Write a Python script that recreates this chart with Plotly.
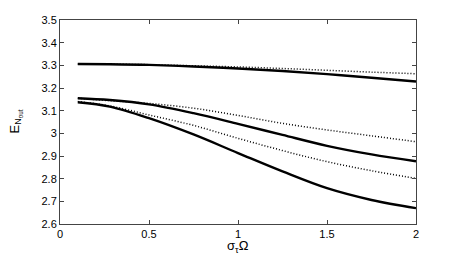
import plotly.graph_objects as go

x = [0.1, 0.28, 0.5, 0.75, 1.0, 1.25, 1.5, 1.75, 2.0]

top_solid = [3.306, 3.305, 3.302, 3.295, 3.286, 3.275, 3.261, 3.245, 3.229]
top_dot = [3.306, 3.305, 3.303, 3.298, 3.293, 3.286, 3.278, 3.270, 3.263]
mid_solid = [3.155, 3.147, 3.128, 3.089, 3.042, 2.993, 2.945, 2.907, 2.877]
mid_dot = [3.155, 3.144, 3.132, 3.111, 3.079, 3.044, 3.015, 2.989, 2.963]
low_solid = [3.137, 3.118, 3.067, 2.995, 2.913, 2.832, 2.758, 2.706, 2.670]
low_dot = [3.140, 3.121, 3.081, 3.035, 2.978, 2.924, 2.875, 2.835, 2.801]

x_ticks = [0, 0.5, 1, 1.5, 2]
x_ticklabels = ["0", "0.5", "1", "1.5", "2"]
y_ticks = [2.6, 2.7, 2.8, 2.9, 3.0, 3.1, 3.2, 3.3, 3.4, 3.5]
y_ticklabels = ["2.6", "2.7", "2.8", "2.9", "3", "3.1", "3.2", "3.3", "3.4", "3.5"]

series = [
    (top_dot, "1px,2px", 1.5),
    (mid_dot, "1px,2px", 1.5),
    (low_dot, "1px,2px", 1.5),
    (top_solid, "solid", 2.4),
    (mid_solid, "solid", 2.4),
    (low_solid, "solid", 2.4),
]

fig = go.Figure()
for ys, dash, w in series:
    fig.add_trace(go.Scatter(x=x, y=ys, mode="lines",
                             line=dict(color="black", width=w, dash=dash, shape="spline", smoothing=1.0),
                             showlegend=False, hoverinfo="skip"))

axis_common = dict(showgrid=False, zeroline=False, showline=True, linecolor="#444", linewidth=1,
                   mirror="ticks", ticks="inside", ticklen=4, tickcolor="#444", automargin=False,
                   tickfont=dict(family="Liberation Sans, Arial", size=11, color="black"))

font_t = dict(family="Liberation Sans, Arial", size=13, color="black")

fig.update_layout(
    width=460, height=259,
    margin=dict(l=60, r=44, t=20, b=35),
    paper_bgcolor="white", plot_bgcolor="white",
    xaxis=dict(range=[0, 2], tickvals=x_ticks, ticktext=x_ticklabels, **axis_common),
    yaxis=dict(range=[2.6, 3.5], tickvals=y_ticks, ticktext=y_ticklabels, **axis_common),
    annotations=[
        dict(text="σ<sub>τ</sub>Ω", xref="paper", yref="paper", x=0.5, y=-0.108,
             xanchor="center", yanchor="middle", showarrow=False, font=font_t),
        dict(text="E<sub>N<sub>out</sub></sub>", xref="paper", yref="paper", x=-0.125, y=0.5,
             xanchor="center", yanchor="middle", textangle=-90, showarrow=False, font=font_t),
    ],
)

fig.write_html("out.html", config={"displayModeBar": False},
               post_script="document.body.style.margin='0px';")
